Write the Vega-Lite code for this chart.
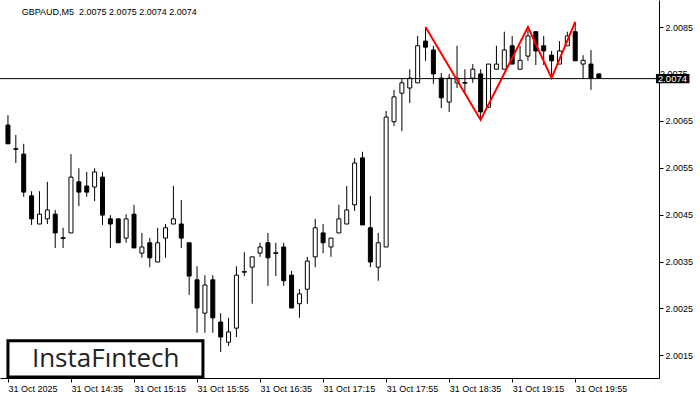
{
  "$schema": "https://vega.github.io/schema/vega-lite/v6.json",
  "width": 659,
  "height": 378,
  "autosize": {"type": "none"},
  "padding": {"left": 0, "top": 0, "right": 41, "bottom": 22},
  "background": "white",
  "config": {"view": {"stroke": null}},
  "datasets": {
    "candles": [
      {"t":"2025-10-31T13:55:00Z","o":2.00641,"h":2.00662,"l":2.00601,"c":2.00601},
      {"t":"2025-10-31T14:00:00Z","o":2.00590,"h":2.00620,"l":2.00560,"c":2.00590},
      {"t":"2025-10-31T14:05:00Z","o":2.00579,"h":2.00601,"l":2.00488,"c":2.00498},
      {"t":"2025-10-31T14:10:00Z","o":2.00490,"h":2.00500,"l":2.00428,"c":2.00441},
      {"t":"2025-10-31T14:15:00Z","o":2.00430,"h":2.00500,"l":2.00430,"c":2.00451},
      {"t":"2025-10-31T14:20:00Z","o":2.00441,"h":2.00520,"l":2.00430,"c":2.00460},
      {"t":"2025-10-31T14:25:00Z","o":2.00451,"h":2.00460,"l":2.00379,"c":2.00411},
      {"t":"2025-10-31T14:30:00Z","o":2.00400,"h":2.00422,"l":2.00379,"c":2.00400},
      {"t":"2025-10-31T14:35:00Z","o":2.00411,"h":2.00579,"l":2.00411,"c":2.00530},
      {"t":"2025-10-31T14:40:00Z","o":2.00520,"h":2.00549,"l":2.00468,"c":2.00498},
      {"t":"2025-10-31T14:45:00Z","o":2.00511,"h":2.00541,"l":2.00488,"c":2.00498},
      {"t":"2025-10-31T14:50:00Z","o":2.00509,"h":2.00549,"l":2.00479,"c":2.00541},
      {"t":"2025-10-31T14:55:00Z","o":2.00530,"h":2.00541,"l":2.00428,"c":2.00449},
      {"t":"2025-10-31T15:00:00Z","o":2.00441,"h":2.00449,"l":2.00379,"c":2.00430},
      {"t":"2025-10-31T15:05:00Z","o":2.00441,"h":2.00441,"l":2.00390,"c":2.00390},
      {"t":"2025-10-31T15:10:00Z","o":2.00400,"h":2.00451,"l":2.00390,"c":2.00441},
      {"t":"2025-10-31T15:15:00Z","o":2.00451,"h":2.00471,"l":2.00379,"c":2.00379},
      {"t":"2025-10-31T15:20:00Z","o":2.00368,"h":2.00411,"l":2.00358,"c":2.00381},
      {"t":"2025-10-31T15:25:00Z","o":2.00390,"h":2.00400,"l":2.00338,"c":2.00358},
      {"t":"2025-10-31T15:30:00Z","o":2.00349,"h":2.00422,"l":2.00349,"c":2.00390},
      {"t":"2025-10-31T15:35:00Z","o":2.00400,"h":2.00430,"l":2.00358,"c":2.00422},
      {"t":"2025-10-31T15:40:00Z","o":2.00430,"h":2.00511,"l":2.00430,"c":2.00441},
      {"t":"2025-10-31T15:45:00Z","o":2.00430,"h":2.00481,"l":2.00379,"c":2.00400},
      {"t":"2025-10-31T15:50:00Z","o":2.00390,"h":2.00390,"l":2.00279,"c":2.00319},
      {"t":"2025-10-31T15:55:00Z","o":2.00311,"h":2.00340,"l":2.00198,"c":2.00251},
      {"t":"2025-10-31T16:00:00Z","o":2.00240,"h":2.00321,"l":2.00198,"c":2.00300},
      {"t":"2025-10-31T16:05:00Z","o":2.00311,"h":2.00321,"l":2.00198,"c":2.00230},
      {"t":"2025-10-31T16:10:00Z","o":2.00221,"h":2.00240,"l":2.00157,"c":2.00189},
      {"t":"2025-10-31T16:15:00Z","o":2.00178,"h":2.00230,"l":2.00170,"c":2.00200},
      {"t":"2025-10-31T16:20:00Z","o":2.00208,"h":2.00340,"l":2.00189,"c":2.00321},
      {"t":"2025-10-31T16:25:00Z","o":2.00328,"h":2.00370,"l":2.00319,"c":2.00328},
      {"t":"2025-10-31T16:30:00Z","o":2.00338,"h":2.00360,"l":2.00260,"c":2.00360},
      {"t":"2025-10-31T16:35:00Z","o":2.00368,"h":2.00390,"l":2.00360,"c":2.00381},
      {"t":"2025-10-31T16:40:00Z","o":2.00390,"h":2.00411,"l":2.00298,"c":2.00358},
      {"t":"2025-10-31T16:45:00Z","o":2.00368,"h":2.00390,"l":2.00319,"c":2.00368},
      {"t":"2025-10-31T16:50:00Z","o":2.00381,"h":2.00390,"l":2.00298,"c":2.00309},
      {"t":"2025-10-31T16:55:00Z","o":2.00321,"h":2.00330,"l":2.00251,"c":2.00251},
      {"t":"2025-10-31T17:00:00Z","o":2.00260,"h":2.00291,"l":2.00230,"c":2.00281},
      {"t":"2025-10-31T17:05:00Z","o":2.00291,"h":2.00360,"l":2.00260,"c":2.00351},
      {"t":"2025-10-31T17:10:00Z","o":2.00360,"h":2.00441,"l":2.00338,"c":2.00422},
      {"t":"2025-10-31T17:15:00Z","o":2.00411,"h":2.00430,"l":2.00368,"c":2.00390},
      {"t":"2025-10-31T17:20:00Z","o":2.00381,"h":2.00400,"l":2.00360,"c":2.00400},
      {"t":"2025-10-31T17:25:00Z","o":2.00411,"h":2.00471,"l":2.00411,"c":2.00441},
      {"t":"2025-10-31T17:30:00Z","o":2.00430,"h":2.00511,"l":2.00430,"c":2.00460},
      {"t":"2025-10-31T17:35:00Z","o":2.00471,"h":2.00571,"l":2.00458,"c":2.00560},
      {"t":"2025-10-31T17:40:00Z","o":2.00571,"h":2.00584,"l":2.00428,"c":2.00428},
      {"t":"2025-10-31T17:45:00Z","o":2.00422,"h":2.00490,"l":2.00338,"c":2.00349},
      {"t":"2025-10-31T17:50:00Z","o":2.00338,"h":2.00411,"l":2.00309,"c":2.00390},
      {"t":"2025-10-31T17:55:00Z","o":2.00381,"h":2.00671,"l":2.00381,"c":2.00658},
      {"t":"2025-10-31T18:00:00Z","o":2.00648,"h":2.00716,"l":2.00639,"c":2.00701},
      {"t":"2025-10-31T18:05:00Z","o":2.00709,"h":2.00741,"l":2.00628,"c":2.00731},
      {"t":"2025-10-31T18:10:00Z","o":2.00720,"h":2.00760,"l":2.00688,"c":2.00741},
      {"t":"2025-10-31T18:15:00Z","o":2.00731,"h":2.00831,"l":2.00731,"c":2.00810},
      {"t":"2025-10-31T18:20:00Z","o":2.00820,"h":2.00850,"l":2.00778,"c":2.00807},
      {"t":"2025-10-31T18:25:00Z","o":2.00801,"h":2.00810,"l":2.00729,"c":2.00750},
      {"t":"2025-10-31T18:30:00Z","o":2.00741,"h":2.00752,"l":2.00677,"c":2.00699},
      {"t":"2025-10-31T18:35:00Z","o":2.00690,"h":2.00750,"l":2.00669,"c":2.00741},
      {"t":"2025-10-31T18:40:00Z","o":2.00731,"h":2.00810,"l":2.00720,"c":2.00741},
      {"t":"2025-10-31T18:45:00Z","o":2.00731,"h":2.00760,"l":2.00709,"c":2.00731},
      {"t":"2025-10-31T18:50:00Z","o":2.00741,"h":2.00771,"l":2.00731,"c":2.00760},
      {"t":"2025-10-31T18:55:00Z","o":2.00750,"h":2.00760,"l":2.00652,"c":2.00669},
      {"t":"2025-10-31T19:00:00Z","o":2.00679,"h":2.00771,"l":2.00677,"c":2.00771},
      {"t":"2025-10-31T19:05:00Z","o":2.00760,"h":2.00810,"l":2.00760,"c":2.00771},
      {"t":"2025-10-31T19:10:00Z","o":2.00760,"h":2.00840,"l":2.00760,"c":2.00801},
      {"t":"2025-10-31T19:15:00Z","o":2.00810,"h":2.00831,"l":2.00771,"c":2.00771},
      {"t":"2025-10-31T19:20:00Z","o":2.00760,"h":2.00810,"l":2.00760,"c":2.00779},
      {"t":"2025-10-31T19:25:00Z","o":2.00788,"h":2.00850,"l":2.00778,"c":2.00831},
      {"t":"2025-10-31T19:30:00Z","o":2.00840,"h":2.00840,"l":2.00769,"c":2.00799},
      {"t":"2025-10-31T19:35:00Z","o":2.00810,"h":2.00831,"l":2.00769,"c":2.00799},
      {"t":"2025-10-31T19:40:00Z","o":2.00790,"h":2.00799,"l":2.00741,"c":2.00778},
      {"t":"2025-10-31T19:45:00Z","o":2.00771,"h":2.00820,"l":2.00771,"c":2.00799},
      {"t":"2025-10-31T19:50:00Z","o":2.00810,"h":2.00840,"l":2.00810,"c":2.00831},
      {"t":"2025-10-31T19:55:00Z","o":2.00840,"h":2.00861,"l":2.00778,"c":2.00778},
      {"t":"2025-10-31T20:00:00Z","o":2.00771,"h":2.00790,"l":2.00741,"c":2.00779},
      {"t":"2025-10-31T20:05:00Z","o":2.00771,"h":2.00801,"l":2.00716,"c":2.00741},
      {"t":"2025-10-31T20:10:00Z","o":2.00750,"h":2.00750,"l":2.00741,"c":2.00741}
    ],
    "pattern": [
      {"t":"2025-10-31T18:20:00Z","p":2.00850},
      {"t":"2025-10-31T18:55:00Z","p":2.00652},
      {"t":"2025-10-31T19:25:00Z","p":2.00850},
      {"t":"2025-10-31T19:40:00Z","p":2.00741},
      {"t":"2025-10-31T19:55:00Z","p":2.00861}
    ],
    "one": [{}]
  },
  "layer": [
    {
      "data": {"name": "candles"},
      "mark": {"type": "rule", "color": "black", "strokeWidth": 1},
      "encoding": {
        "x": {
          "field": "t", "type": "temporal",
          "scale": {"type": "utc", "domain": [
            {"year": 2025, "month": 10, "date": 31, "hours": 13, "minutes": 53, "seconds": 7, "milliseconds": 500, "utc": true},
            {"year": 2025, "month": 10, "date": 31, "hours": 20, "minutes": 45, "utc": true}
          ]},
          "axis": {
            "orient": "bottom",
            "title": null,
            "grid": false,
            "values": [
              {"year": 2025, "month": 10, "date": 31, "hours": 13, "minutes": 55, "utc": true},
              {"year": 2025, "month": 10, "date": 31, "hours": 14, "minutes": 35, "utc": true},
              {"year": 2025, "month": 10, "date": 31, "hours": 15, "minutes": 15, "utc": true},
              {"year": 2025, "month": 10, "date": 31, "hours": 15, "minutes": 55, "utc": true},
              {"year": 2025, "month": 10, "date": 31, "hours": 16, "minutes": 35, "utc": true},
              {"year": 2025, "month": 10, "date": 31, "hours": 17, "minutes": 15, "utc": true},
              {"year": 2025, "month": 10, "date": 31, "hours": 17, "minutes": 55, "utc": true},
              {"year": 2025, "month": 10, "date": 31, "hours": 18, "minutes": 35, "utc": true},
              {"year": 2025, "month": 10, "date": 31, "hours": 19, "minutes": 15, "utc": true},
              {"year": 2025, "month": 10, "date": 31, "hours": 19, "minutes": 55, "utc": true}
            ],
            "labelExpr": "utcFormat(datum.value, '%H:%M') == '13:55' ? '31 Oct 2025' : utcFormat(datum.value, '%d %b %H:%M')",
            "labelAlign": "left",
            "labelBaseline": "top",
            "labelPadding": 2,
            "labelFont": "Liberation Sans",
            "labelFontSize": 9,
            "labelColor": "black",
            "labelOverlap": false,
            "labelFlush": false,
            "tickSize": 4,
            "tickColor": "black",
            "domainColor": "black",
            "domainWidth": 1
          }
        },
        "y": {
          "field": "l", "type": "quantitative",
          "scale": {"domain": [2.001017, 2.009076], "zero": false, "nice": false},
          "axis": {
            "orient": "right",
            "title": null,
            "grid": false,
            "values": [2.0015, 2.0025, 2.0035, 2.0045, 2.0055, 2.0065, 2.0075, 2.0085],
            "labelExpr": "datum.value > 2.00745 && datum.value < 2.00755 ? '' : format(datum.value, '.4f')",
            "labelFont": "Liberation Sans",
            "labelFontSize": 9,
            "labelColor": "black",
            "labelPadding": 2,
            "labelOverlap": false,
            "labelFlush": false,
            "tickSize": 4,
            "tickColor": "black",
            "domainColor": "black",
            "domainWidth": 1
          }
        },
        "y2": {"field": "h"}
      }
    },
    {
      "data": {"name": "candles"},
      "mark": {"type": "bar", "size": 4, "stroke": "black", "strokeWidth": 1},
      "encoding": {
        "x": {"field": "t", "type": "temporal"},
        "y": {"field": "o", "type": "quantitative"},
        "y2": {"field": "c"},
        "fill": {"condition": {"test": "datum.c > datum.o", "value": "white"}, "value": "black"}
      }
    },
    {
      "data": {"name": "candles"},
      "transform": [{"filter": "datum.o == datum.c"}],
      "mark": {"type": "tick", "orient": "horizontal", "size": 5, "thickness": 1, "color": "black", "opacity": 1},
      "encoding": {
        "x": {"field": "t", "type": "temporal"},
        "y": {"field": "c", "type": "quantitative"}
      }
    },
    {
      "data": {"name": "one"},
      "mark": {"type": "rule", "color": "black", "strokeWidth": 1},
      "encoding": {"y": {"datum": 2.0074, "type": "quantitative"}}
    },
    {
      "data": {"name": "pattern"},
      "mark": {"type": "line", "color": "#ff0000", "strokeWidth": 2},
      "encoding": {
        "x": {"field": "t", "type": "temporal"},
        "y": {"field": "p", "type": "quantitative"}
      }
    },
    {
      "data": {"name": "one"},
      "mark": {"type": "text", "align": "left", "baseline": "middle", "font": "Liberation Sans", "fontSize": 9, "color": "black", "text": "GBPAUD,M5\u00a0 2.0075 2.0075 2.0074 2.0074"},
      "encoding": {
        "x": {"datum": {"year": 2025, "month": 10, "date": 31, "hours": 14, "minutes": 3, "seconds": 45, "utc": true}, "type": "temporal"},
        "y": {"datum": 2.00882, "type": "quantitative"}
      }
    },
    {
      "data": {"name": "one"},
      "mark": {"type": "rect", "fill": "white", "stroke": "black", "strokeWidth": 3},
      "encoding": {
        "x": {"datum": {"year": 2025, "month": 10, "date": 31, "hours": 13, "minutes": 55, "utc": true}, "type": "temporal"},
        "x2": {"datum": {"year": 2025, "month": 10, "date": 31, "hours": 15, "minutes": 58, "seconds": 45, "utc": true}},
        "y": {"datum": 2.00181, "type": "quantitative"},
        "y2": {"datum": 2.00104}
      }
    },
    {
      "data": {"name": "one"},
      "mark": {"type": "text", "align": "center", "baseline": "middle", "font": "Open Sans", "fontSize": 26, "fontWeight": "normal", "color": "#222222", "text": "InstaFıntech"},
      "encoding": {
        "x": {"datum": {"year": 2025, "month": 10, "date": 31, "hours": 14, "minutes": 57, "utc": true}, "type": "temporal"},
        "y": {"datum": 2.00143, "type": "quantitative"}
      }
    },
    {
      "data": {"name": "one"},
      "mark": {"type": "text", "align": "left", "baseline": "middle", "font": "Liberation Sans", "fontSize": 9, "color": "black", "text": "2.0075"},
      "encoding": {
        "x": {"datum": {"year": 2025, "month": 10, "date": 31, "hours": 20, "minutes": 48, "seconds": 45, "utc": true}, "type": "temporal"},
        "y": {"datum": 2.0075, "type": "quantitative"}
      }
    },
    {
      "data": {"name": "one"},
      "mark": {"type": "rect", "fill": "black"},
      "encoding": {
        "x": {"datum": {"year": 2025, "month": 10, "date": 31, "hours": 20, "minutes": 46, "seconds": 15, "utc": true}, "type": "temporal"},
        "x2": {"datum": {"year": 2025, "month": 10, "date": 31, "hours": 21, "minutes": 7, "seconds": 30, "utc": true}},
        "y": {"datum": 2.00750, "type": "quantitative"},
        "y2": {"datum": 2.00730}
      }
    },
    {
      "data": {"name": "one"},
      "mark": {"type": "text", "align": "left", "baseline": "middle", "font": "Liberation Sans", "fontSize": 9.5, "color": "white", "text": "2.0074"},
      "encoding": {
        "x": {"datum": {"year": 2025, "month": 10, "date": 31, "hours": 20, "minutes": 47, "seconds": 30, "utc": true}, "type": "temporal"},
        "y": {"datum": 2.0074, "type": "quantitative"}
      }
    }
  ]
}
